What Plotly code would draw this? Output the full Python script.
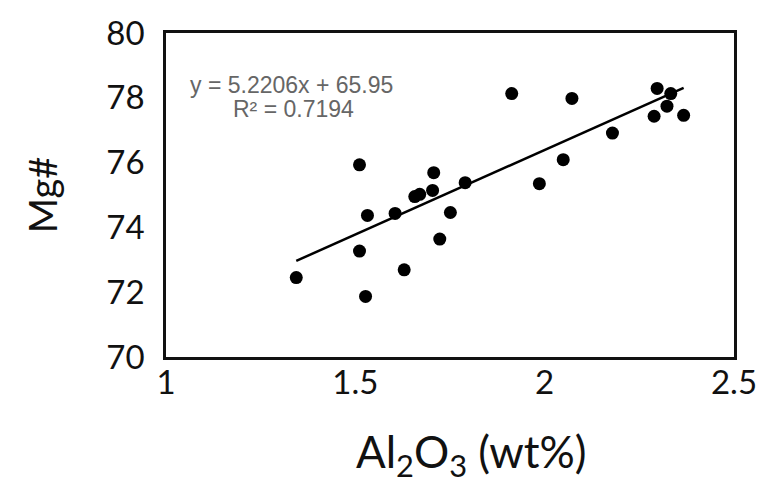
import numpy as np
import plotly.graph_objects as go

al2o3 = [1.344, 1.511, 1.511, 1.532, 1.527, 1.605, 1.629, 1.657, 1.670, 1.704, 1.707, 1.723,
         1.751, 1.790, 1.913, 1.986, 2.049, 2.072, 2.179, 2.289, 2.297, 2.323, 2.333, 2.367]
mg_num = [72.45, 75.93, 73.27, 74.37, 71.87, 74.43, 72.69, 74.95, 75.02, 75.14, 75.69, 73.64,
          74.46, 75.38, 78.13, 75.35, 76.09, 77.98, 76.91, 77.43, 78.29, 77.74, 78.13, 77.46]
slope = 5.2206
intercept = 65.95
r2 = 0.7194
x_ticks = [1, 1.5, 2, 2.5]
x_tick_labels = ["1", "1.5", "2", "2.5"]
y_ticks = [70, 72, 74, 76, 78, 80]

fx = np.array([min(al2o3), max(al2o3)])
fy = slope * fx + intercept

fig = go.Figure()
fig.add_trace(go.Scatter(x=fx, y=fy, mode="lines", line=dict(color="black", width=2.5),
                         showlegend=False, hoverinfo="skip"))
fig.add_trace(go.Scatter(x=al2o3, y=mg_num, mode="markers",
                         marker=dict(color="black", size=13), showlegend=False))

font_main = "Lato, 'Open Sans', sans-serif"
font_eq = "'Liberation Sans', Arial, sans-serif"
fig.update_layout(
    width=769, height=484,
    margin=dict(l=166, r=28, t=30, b=127),
    paper_bgcolor="white", plot_bgcolor="white",
    font=dict(family=font_main, color="black"),
    xaxis=dict(range=[1, 2.5], tickvals=x_ticks, ticktext=x_tick_labels,
               showgrid=False, zeroline=False, showline=True, mirror=True,
               linecolor="#111", linewidth=2.5, ticks="", ticklabelstandoff=-5,
               tickfont=dict(size=33, family=font_main, color="#111")),
    yaxis=dict(range=[70, 80], tickvals=y_ticks,
               showgrid=False, zeroline=False, showline=True, mirror=True,
               linecolor="#111", linewidth=2.5, ticks="", ticklabelstandoff=12,
               tickfont=dict(size=33, family=font_main, color="#111")),
    annotations=[
        dict(x=0.537, y=-0.30, xref="paper", yref="paper", showarrow=False,
             text="Al<sub>2</sub>O<sub>3</sub> (wt%)", xanchor="center", yanchor="middle",
             font=dict(size=44, family=font_main, color="#111")),
        dict(x=-0.218, y=0.5, xref="paper", yref="paper", showarrow=False,
             text="Mg#", textangle=-90, xanchor="center", yanchor="middle",
             font=dict(size=38, family=font_main, color="#111")),
        dict(x=0.038, y=0.838, xref="paper", yref="paper", showarrow=False,
             text=f"y = {slope}x + {intercept}", xanchor="left", yanchor="middle",
             font=dict(size=23, family=font_eq, color="#666")),
        dict(x=0.115, y=0.765, xref="paper", yref="paper", showarrow=False,
             text=f"R² = {r2}", xanchor="left", yanchor="middle",
             font=dict(size=23, family=font_eq, color="#666")),
    ],
)

fig.write_html("out.html")
